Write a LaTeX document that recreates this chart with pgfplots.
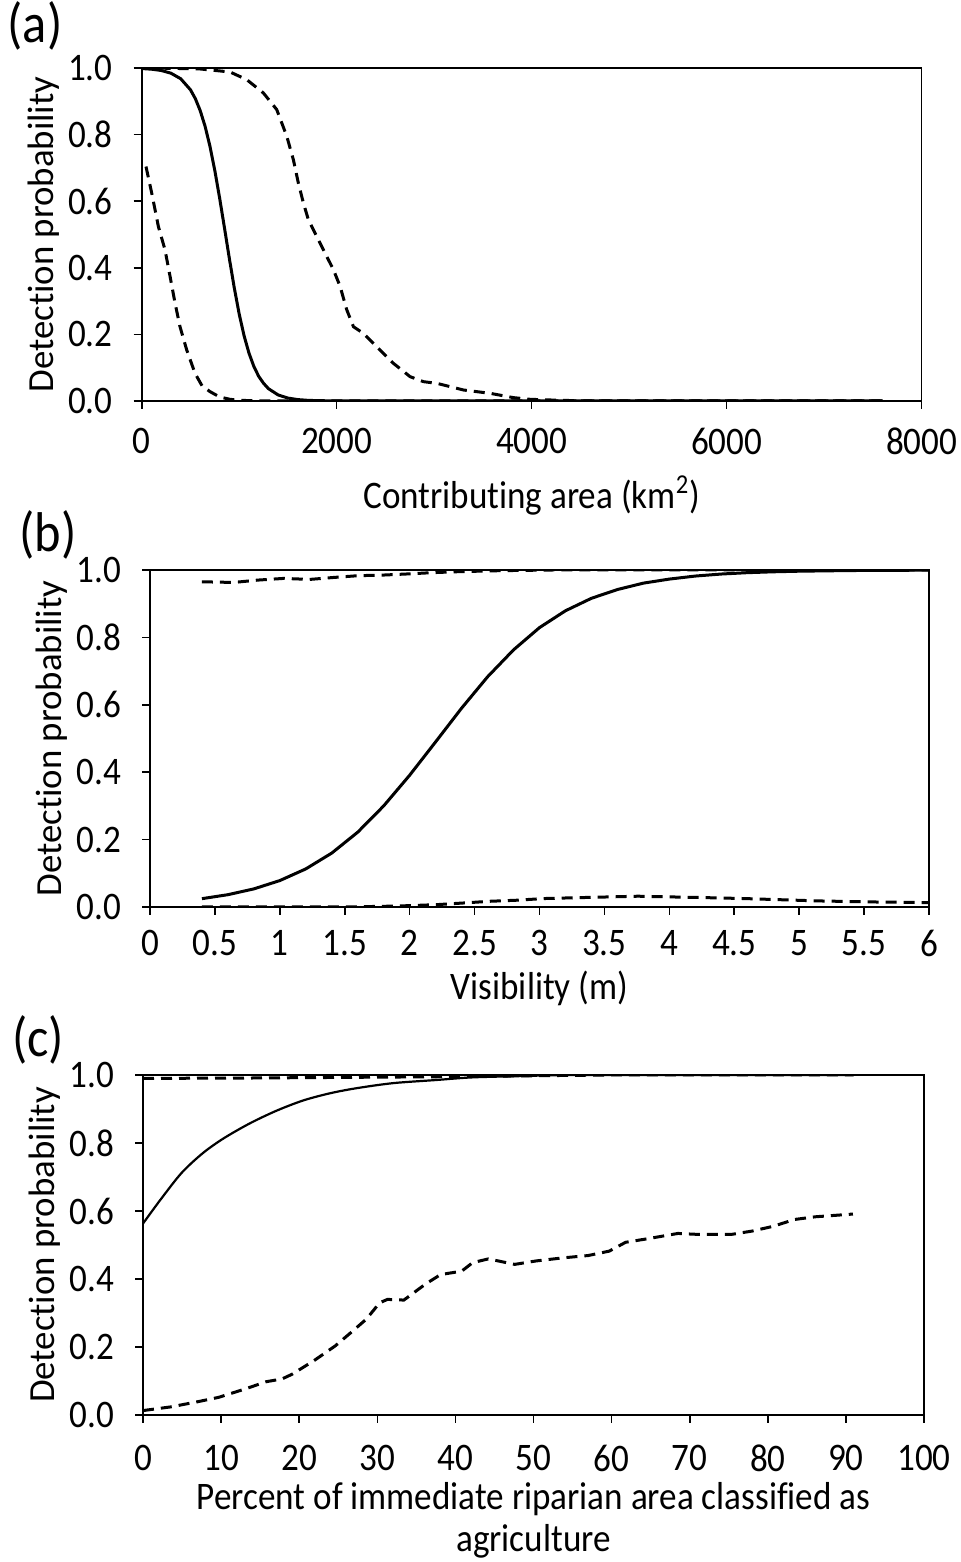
\documentclass[border=0pt]{standalone}
\usepackage{fontspec}
\setmainfont{Carlito}[FakeStretch=0.9, Ligatures=NoCommon]
\newfontfamily\ylabfont{Carlito}[Ligatures=NoCommon]
\usepackage{pgfplots}
\pgfplotsset{compat=1.18}
\pgfplotsset{panel/.style={
  scale only axis,
  axis line style={line width=0.8pt},
  tick align=outside, xtick pos=lower, ytick pos=left,
  major tick length=4pt,
  tick style={line width=0.8pt, black},
  ymin=0, ymax=1, ytick={0,0.2,0.4,0.6,0.8,1},
  y tick label style={/pgf/number format/.cd, fixed, fixed zerofill, precision=1, /tikz/.cd, xshift=-7pt},
  x tick label style={/pgf/number format/.cd, set thousands separator={}, /tikz/.cd, yshift=-6pt},
  /pgf/number format/assume math mode=true,
  tick label style={font=\fontsize{19.5}{22}\selectfont},
  label style={font=\fontsize{19.5}{21}\selectfont},
  ylabel style={font=\ylabfont\fontsize{18.4}{22}\selectfont, yshift=-2.5pt},
  xlabel style={yshift=-3.5pt},
  ylabel={Detection probability},
  every axis plot/.append style={black, line width=1.5pt},
  dsh/.style={dash pattern=on 5.5pt off 3.5pt},
}}
\begin{document}
\begin{tikzpicture}
\useasboundingbox (0,0) rectangle (480pt,781pt);
\node[font=\fontsize{28}{32}\selectfont] at (17.5pt,768pt) {(a)};
\node[font=\fontsize{28}{32}\selectfont] at (24pt,513.5pt) {(b)};
\node[font=\fontsize{28}{32}\selectfont] at (19pt,261pt) {(c)};
% (a)
\begin{axis}[panel, at={(70.85pt,580.5pt)}, anchor=south west, width=390pt, height=166.5pt,
  xmin=0, xmax=8000, xtick={0,2000,4000,6000,8000},
  xlabel={Contributing area (km\textsuperscript{2})}]
\addplot[black] coordinates {(0,0.9983)(100,0.9964)(200,0.9925)(300,0.9843)(400,0.9677)(500,0.9346)(550,0.908)(600,0.872)(650,0.825)(700,0.765)(750,0.692)(800,0.608)(850,0.518)(900,0.426)(950,0.339)(1000,0.261)(1050,0.196)(1100,0.144)(1150,0.104)(1200,0.074)(1250,0.053)(1300,0.037)(1400,0.018)(1500,0.0087)(1600,0.0042)(1700,0.002)(1800,0.001)(2000,0.0002)(7600,0)};
\addplot[dsh] coordinates {(44,0.704)(103,0.624)(171,0.524)(239,0.454)(291,0.374)(342,0.294)(393,0.223)(462,0.153)(547,0.083)(620,0.045)(701,0.028)(800,0.012)(906,0.005)(1000,0.002)(1248,0)(7600,0)};
\addplot[dsh] coordinates {(0,1.0)(300,0.999)(600,0.997)(906,0.988)(1077,0.965)(1248,0.925)(1385,0.875)(1488,0.795)(1556,0.724)(1607,0.654)(1659,0.594)(1710,0.544)(1795,0.494)(1898,0.434)(1967,0.394)(2035,0.344)(2103,0.274)(2172,0.223)(2274,0.203)(2411,0.163)(2582,0.113)(2753,0.073)(2890,0.058)(3027,0.053)(3300,0.033)(3574,0.023)(3813,0.010)(3984,0.005)(4300,0.002)(4600,0)(7600,0)};
\end{axis}
% (b)
\begin{axis}[panel, at={(75pt,327.5pt)}, anchor=south west, width=389.5pt, height=168.5pt,
  xmin=0, xmax=6, xtick={0,0.5,1,1.5,2,2.5,3,3.5,4,4.5,5,5.5,6},
  xticklabels={0,0.5,1,1.5,2,2.5,3,3.5,4,4.5,5,5.5,6},
  x tick label style={yshift=2pt},
  xlabel style={yshift=3pt},
  xlabel={Visibility (m)}]
\addplot[black] coordinates {(0.4,0.0247)(0.6,0.0365)(0.8,0.0537)(1.0,0.0784)(1.2,0.113)(1.4,0.160)(1.6,0.222)(1.8,0.300)(2.0,0.391)(2.2,0.490)(2.4,0.590)(2.6,0.683)(2.8,0.763)(3.0,0.829)(3.2,0.879)(3.4,0.916)(3.6,0.942)(3.8,0.961)(4.0,0.973)(4.2,0.982)(4.4,0.988)(4.6,0.992)(4.8,0.9946)(5.0,0.9964)(5.4,0.9984)(6.0,0.9995)};
\addplot[dsh] coordinates {(0.4,0.965)(0.644,0.963)(0.83,0.970)(1.03,0.975)(1.23,0.972)(1.42,0.978)(1.6,0.983)(1.8,0.985)(1.97,0.988)(2.17,0.992)(2.38,0.995)(2.70,0.998)(3.11,1.0)(6,1.0)};
\addplot[dsh] coordinates {(0.4,0)(1.48,0)(1.8,0.002)(2.0,0.004)(2.21,0.007)(2.42,0.012)(2.62,0.017)(2.82,0.020)(3.03,0.025)(3.23,0.027)(3.44,0.029)(3.76,0.032)(4.0,0.030)(4.25,0.028)(4.58,0.025)(4.82,0.022)(5.15,0.018)(5.55,0.015)(6,0.013)};
\end{axis}
% (c)
\begin{axis}[panel, at={(71.5pt,73.5pt)}, anchor=south west, width=390.5pt, height=170pt,
  xmin=0, xmax=100, xtick={0,10,...,100},
  x tick label style={yshift=-1.5pt},
  xlabel={Percent of immediate riparian area classified as\\agriculture},
  xlabel style={align=center, yshift=5pt}]
\addplot[black, line width=1.1pt, smooth] coordinates {(0,0.563)(2.23,0.633)(4.94,0.712)(7.65,0.770)(10.35,0.814)(13.7,0.858)(17.1,0.895)(20.5,0.925)(23.9,0.946)(27.3,0.961)(32,0.976)(37.4,0.985)(42.2,0.993)(48.9,0.997)(52.3,0.999)(60,1.0)(91,1.0)};
\addplot[dsh] coordinates {(0,0.990)(13,0.991)(38.8,0.995)(51,0.998)(60,1.0)(91,1.0)};
\addplot[dsh] coordinates {(0,0.013)(3.6,0.024)(7,0.039)(9.7,0.052)(13,0.076)(15.8,0.098)(17.8,0.106)(19.1,0.12)(21.9,0.16)(24.6,0.203)(26.6,0.242)(28.6,0.282)(30.3,0.33)(31.3,0.34)(33.4,0.338)(34.7,0.36)(36.1,0.384)(38.1,0.413)(40.8,0.423)(42.2,0.448)(44.2,0.459)(45.5,0.453)(47.6,0.443)(50.3,0.453)(53.7,0.462)(57,0.469)(59.7,0.482)(61.8,0.508)(64.5,0.518)(68.5,0.534)(71.2,0.531)(75.3,0.531)(78,0.541)(80.7,0.555)(83.4,0.575)(86.1,0.583)(90.9,0.591)};
\end{axis}
\end{tikzpicture}
\end{document}
